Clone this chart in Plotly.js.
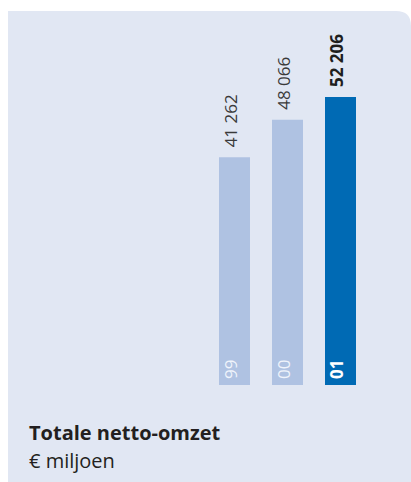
<!DOCTYPE html>
<html>
<head>
<meta charset="utf-8">
<script src="https://cdn.plot.ly/plotly-3.0.1.min.js"></script>
<style>html,body{margin:0;padding:0;background:#fff;}#chart{width:411px;height:482px;}</style>
</head>
<body>
<div id="chart"></div>
<script>
const years = ['99', '00', '01'];
const values = [41262, 48066, 52206];
const highlight = [false, false, true];
const valueLabels = ['41 262', '48 066', '52 206'];
const titleText = 'Totale netto-omzet';
const unitText = '€ miljoen';

const lightBar = '#afc2e2';
const darkBar = '#006ab4';
const panelBg = '#e1e7f3';
const FONT = '"Open Sans", "Noto Sans", sans-serif';

const W = 411, H = 482;
const m = {l: 20, r: 20, t: 20, b: 97};
const pw = W - m.l - m.r, ph = H - m.t - m.b;
const px2x = p => (p - m.l) / pw;
const py2y = p => (H - m.b - p) / ph;

// panel with rounded top-right corner
const x0 = px2x(8), x1 = px2x(411), y0 = py2y(482), y1 = py2y(11);
const rx = 15 / pw, ry = 15 / ph;
const panelPath = `M ${x0},${y0} L ${x0},${y1} L ${x1 - rx},${y1} Q ${x1},${y1} ${x1},${y1 - ry} L ${x1},${y0} Z`;

const trace = {
  type: 'bar',
  x: years,
  y: values,
  width: 31 / 53,
  marker: {color: highlight.map(h => h ? darkBar : lightBar)},
  hoverinfo: 'none'
};

const annotations = [];
years.forEach((yr, i) => {
  annotations.push({
    x: i, y: values[i], xref: 'x', yref: 'y',
    text: highlight[i] ? '<b>' + valueLabels[i] + '</b>' : valueLabels[i],
    textangle: -90, showarrow: false,
    xanchor: 'center', yanchor: 'bottom', yshift: 8, xshift: -4,
    font: {family: FONT, size: 17, color: highlight[i] ? '#1e1e1e' : '#3a3a3a'}
  });
  annotations.push({
    x: i, y: 0, xref: 'x', yref: 'y',
    text: highlight[i] ? '<b>' + yr + '</b>' : yr,
    textangle: -90, showarrow: false,
    xanchor: 'center', yanchor: 'bottom', yshift: 4, xshift: -4,
    font: {family: FONT, size: 17, color: highlight[i] ? '#ffffff' : '#f0f4fb'}
  });
});
annotations.push({
  xref: 'paper', yref: 'paper', x: px2x(27), y: py2y(432), xanchor: 'left', yanchor: 'middle',
  text: '<b>' + titleText + '</b>', showarrow: false,
  font: {family: FONT, size: 20, color: '#231f20'}
});
annotations.push({
  xref: 'paper', yref: 'paper', x: px2x(27), y: py2y(460), xanchor: 'left', yanchor: 'middle',
  text: unitText, showarrow: false,
  font: {family: FONT, size: 20, color: '#231f20'}
});

const layout = {
  width: W, height: H,
  margin: m,
  paper_bgcolor: '#ffffff',
  plot_bgcolor: 'rgba(0,0,0,0)',
  showlegend: false,
  xaxis: {type: 'category', range: [-(234.5 - m.l) / 53, (W - m.r - 234.5) / 53], visible: false, fixedrange: true},
  yaxis: {range: [0, ph * 52206 / 288], visible: false, fixedrange: true},
  shapes: [{type: 'path', xref: 'paper', yref: 'paper', path: panelPath, fillcolor: panelBg, line: {width: 0}, layer: 'below'}],
  annotations: annotations
};

Plotly.newPlot('chart', [trace], layout, {displayModeBar: false, staticPlot: true});
</script>
</body>
</html>
